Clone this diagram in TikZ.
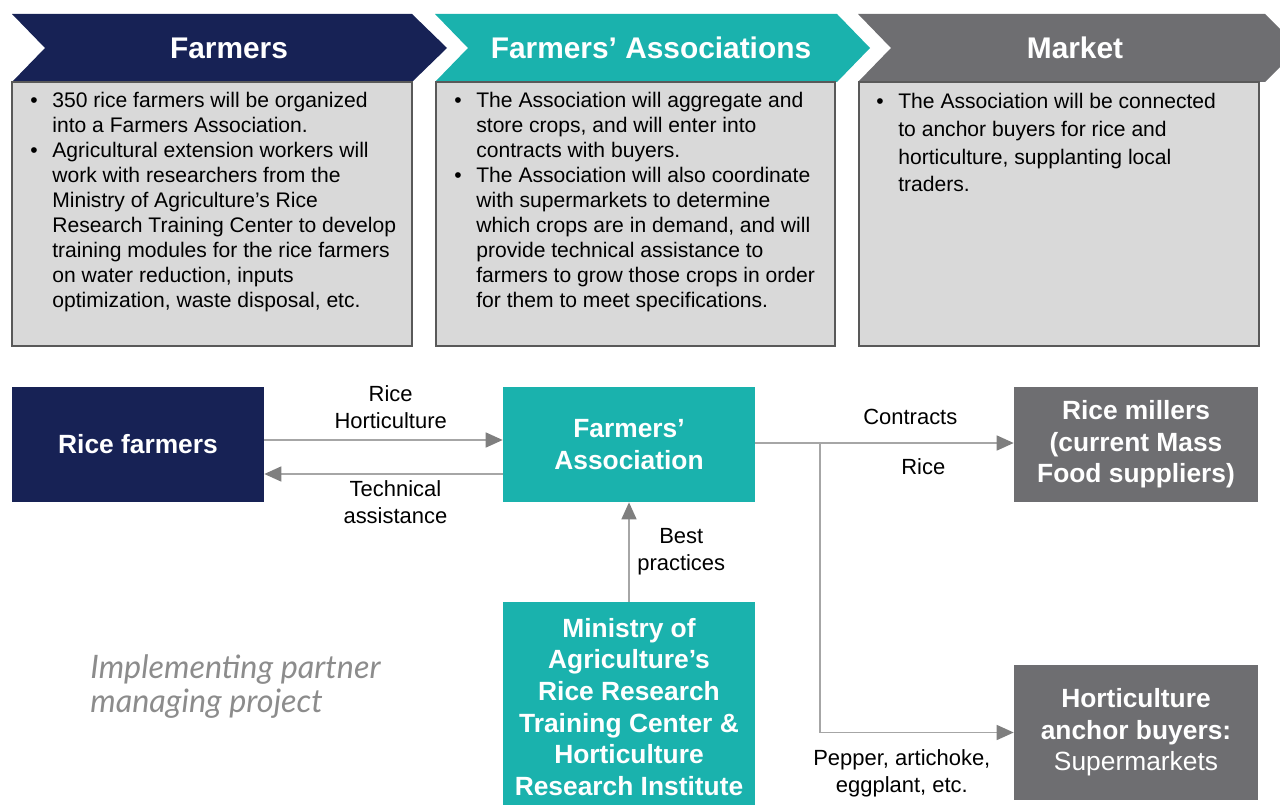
\documentclass[tikz,border=0pt]{standalone}
\usepackage{fontspec}
\setmainfont{Liberation Sans}
\newfontfamily\partnerfont{Lato}
\usetikzlibrary{arrows.meta}

\definecolor{navy}{HTML}{172255}
\definecolor{fateal}{HTML}{1AB2AD}
\definecolor{mktgray}{HTML}{6E6E71}
\definecolor{boxgray}{HTML}{D9D9D9}
\definecolor{linegray}{HTML}{A6A6A6}
\definecolor{tipgray}{HTML}{7F7F7F}
\definecolor{partnergray}{HTML}{8C8C8C}

\newcommand{\bl}{\textbullet}

\tikzset{
  infobox/.style={fill=boxgray, draw=black!65, line width=0.6pt},
  bodytext/.style={anchor=base west, inner sep=0pt, font=\fontsize{12}{14.2}\selectfont},
  headtext/.style={text=white, font=\fontsize{17}{20}\selectfont\bfseries},
  player/.style={rectangle, minimum width=5.04cm, minimum height=2.3cm, text=white, align=center, font=\fontsize{15}{18}\selectfont\bfseries},
  flow/.style={draw=linegray, line width=0.9pt, -{Triangle[length=0.34cm, width=0.3cm, color=tipgray]}},
  flowlabel/.style={align=center, inner sep=0.12cm, font=\fontsize{12.5}{15.3}\selectfont}
}

\begin{document}
\begin{tikzpicture}[x=0.02cm, y=-0.02cm]
  \useasboundingbox (0,0) rectangle (1280,804);

  % header chevrons
  \fill[navy] (12,14) -- (412,14) -- (447,48) -- (412,82) -- (12,82) -- (45,48) -- cycle;
  \fill[fateal] (435,14) -- (837,14) -- (870,48) -- (837,82) -- (435,82) -- (468,48) -- cycle;
  \fill[mktgray] (858,14) -- (1265,14) -- (1299,48) -- (1265,82) -- (858,82) -- (891,48) -- cycle;
  \node[headtext] (hfarm) at (229,48) {Farmers};
  \node[headtext] (hassoc) at (651,48) {Farmers' Associations};
  \node[headtext] (hmarket) at (1075,48) {Market};

  % text boxes
  \draw[infobox] (12,82) rectangle (412,346);
  \draw[infobox] (436,82) rectangle (835,346);
  \draw[infobox] (859,82) rectangle (1259,346);
  \node[bodytext] (tfarm) at (30,108) {\begin{tabular}[t]{@{}p{0.44cm}@{}l@{}}
    \bl & 350 rice farmers will be organized\\
        & into a Farmers Association.\\
    \bl & Agricultural extension workers will\\
        & work with researchers from the\\
        & Ministry of Agriculture's Rice\\
        & Research Training Center to develop\\
        & training modules for the rice farmers\\
        & on water reduction, inputs\\
        & optimization, waste disposal, etc.
  \end{tabular}};
  \node[bodytext] (tassoc) at (454,108) {\begin{tabular}[t]{@{}p{0.44cm}@{}l@{}}
    \bl & The Association will aggregate and\\
        & store crops, and will enter into\\
        & contracts with buyers.\\
    \bl & The Association will also coordinate\\
        & with supermarkets to determine\\
        & which crops are in demand, and will\\
        & provide technical assistance to\\
        & farmers to grow those crops in order\\
        & for them to meet specifications.
  \end{tabular}};
  \node[bodytext, font=\fontsize{12}{15.7}\selectfont] (tmarket) at (876,109) {\begin{tabular}[t]{@{}p{0.44cm}@{}l@{}}
    \bl & The Association will be connected\\
        & to anchor buyers for rice and\\
        & horticulture, supplanting local\\
        & traders.
  \end{tabular}};

  % actors
  \node[player, fill=navy] (rf) at (138,444.5) {Rice farmers};
  \node[player, fill=fateal] (fa) at (629,444.5) {Farmers'\\Association};
  \node[player, fill=mktgray, minimum width=4.88cm] (rm) at (1136,444.5) {Rice millers\\(current Mass\\Food suppliers)};
  \node[player, fill=mktgray, minimum width=4.88cm, minimum height=2.7cm] (hab) at (1136,732.5) {Horticulture\\anchor buyers:\\{\mdseries Supermarkets}};
  \node[player, fill=fateal, minimum height=4.2cm] (moa) at (629,707) {Ministry of\\Agriculture's\\Rice Research\\Training Center \&\\Horticulture\\Research Institute};

  % flows
  \draw[flow] ([yshift=0.09cm]rf.east) -- node[flowlabel, above, pos=0.53, inner sep=0.22cm] (lcrops) {Rice\\Horticulture} ([yshift=0.09cm]fa.west);
  \draw[flow] ([yshift=-0.59cm]fa.west) -- node[flowlabel, below, pos=0.45] (ltech) {Technical\\assistance} ([yshift=-0.59cm]rf.east);
  \draw[flow] ([yshift=0.03cm]fa.east) -- node[flowlabel, above, pos=0.6, inner sep=0.36cm] (lcontract) {Contracts}
    node[flowlabel, below, pos=0.65, inner sep=0.3cm] (lrice) {Rice} ([yshift=0.03cm]rm.west);
  \coordinate (split) at (820,443);
  \draw[flow] (split) |- (hab.west) node[flowlabel, below, pos=0.75, xshift=-0.3cm, yshift=-0.2cm] (lveg) {Pepper, artichoke,\\eggplant, etc.};
  \draw[flow] (moa.north) -- node[flowlabel, right, pos=0.5, inner sep=0.15cm] (lbest) {Best\\practices} (fa.south);

  \node[anchor=north west, inner sep=0pt, align=left, text=partnergray, font=\partnerfont\itshape\fontsize{18.4}{19.8}\selectfont] (lpartner) at (90,654) {Implementing partner\\managing project};
\end{tikzpicture}
\end{document}
